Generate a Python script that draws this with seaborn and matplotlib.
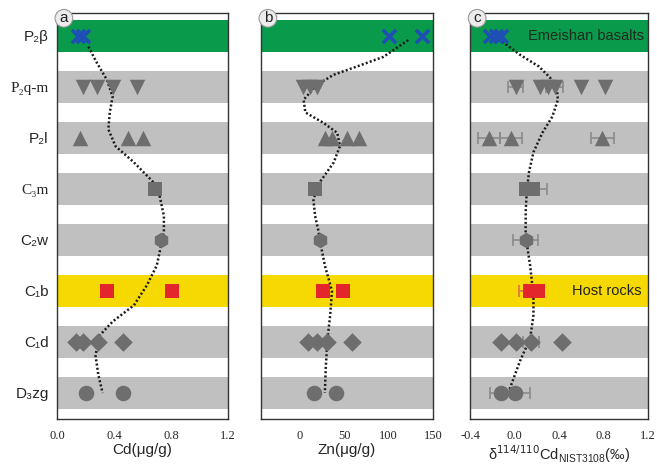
import matplotlib
matplotlib.use("Agg")
import matplotlib.pyplot as plt
import seaborn as sns

# stratigraphic units, top to bottom
levels = ["P₂β", "P₂q-m", "P₂l", "C₃m", "C₂w", "C₁b", "C₁d", "D₃zg"]

cd = [[0.15, 0.18], [0.18, 0.28, 0.39, 0.56], [0.16, 0.50, 0.60], [0.69], [0.73],
      [0.35, 0.81], [0.13, 0.18, 0.29, 0.46], [0.20, 0.46]]
zn = [[100, 137], [3.5, 11, 19], [28, 36, 53, 66], [17], [22],
      [26, 48], [9, 19, 30, 59], [16, 41]]
dcd = [[-0.22, -0.17, -0.12], [0.01, 0.23, 0.30, 0.36, 0.60, 0.81], [-0.23, -0.03, 0.79],
       [0.10, 0.17], [0.10], [0.14, 0.21], [-0.12, 0.01, 0.15, 0.43], [-0.12, 0.0]]
dcd_err = [[0, 0, 0], [0.07, 0, 0, 0.08, 0, 0], [0.1, 0.1, 0.1],
           [0, 0.12], [0.11], [0.1, 0], [0, 0, 0.07, 0], [0.1, 0.14]]

# dotted trend curves (value, level position)
cd_curve_x = [0.22, 0.28, 0.35, 0.39, 0.37, 0.36, 0.41, 0.54, 0.67, 0.72, 0.75, 0.75,
              0.74, 0.70, 0.63, 0.54, 0.39, 0.30, 0.27, 0.29, 0.32]
cd_curve_y = [0.21, 0.53, 0.86, 1.19, 1.5, 1.83, 2.16, 2.48, 2.85, 3.14, 3.53, 3.84,
              3.98, 4.5, 4.89, 5.28, 5.6, 5.87, 6.26, 6.65, 7.0]
zn_curve_x = [122, 94, 64, 38, 19, 4, 6, 26, 42, 45, 38, 23, 15, 17, 21,
              22, 28, 36, 34, 31, 29, 28]
zn_curve_y = [0.08, 0.41, 0.6, 0.76, 0.96, 1.25, 1.5, 1.7, 1.9, 2.16, 2.48, 2.85, 3.2, 3.53, 3.84,
              3.98, 4.5, 5.0, 5.48, 5.93, 6.51, 7.0]
dcd_curve_x = [-0.11, 0.05, 0.22, 0.32, 0.38, 0.39, 0.34, 0.25, 0.17, 0.13, 0.11, 0.10, 0.10,
               0.10, 0.14, 0.17, 0.17, 0.14, 0.05, -0.05]
dcd_curve_y = [0.11, 0.37, 0.6, 0.82, 1.05, 1.25, 1.58, 1.9, 2.28, 2.67, 3.06, 3.45, 3.84,
               3.92, 4.5, 5.09, 5.48, 5.93, 6.37, 6.96]

GRAY_BAND = "#c0c0c0"
band_colors = ["#0a9a4b", GRAY_BAND, GRAY_BAND, GRAY_BAND, GRAY_BAND, "#f6d900", GRAY_BAND, GRAY_BAND]
markers = ["x", "v", "^", "s", "h", "s", "D", "o"]
mk_colors = ["#1d4fb5", "#6e6e6e", "#6e6e6e", "#6e6e6e", "#6e6e6e", "#e3262b", "#6e6e6e", "#6e6e6e"]
mk_sizes = [90, 125, 125, 115, 125, 115, 90, 125]

sns.set_style("white")
plt.rcParams["font.family"] = ["Liberation Sans", "DejaVu Sans"]

fig = plt.figure(figsize=(6.57, 4.66), dpi=100)
bottom, height = 0.1009, 0.8712
ax_a = fig.add_axes([0.0868, bottom, 0.2603, height])
ax_b = fig.add_axes([0.3973, bottom, 0.2618, height])
ax_c = fig.add_axes([0.7154, bottom, 0.2710, height])


def fmt_tick(t):
    if isinstance(t, int):
        return str(t)
    return "%.1f" % t


def draw_panel(ax, values, cx, cy, xlim, ticks, xlabel, tag, errs=None, label_size=11):
    ax.set_xlim(xlim)
    ax.set_ylim(7.51, -0.45)
    for i in range(len(levels)):
        ax.axhspan(i - 0.31, i + 0.31, color=band_colors[i], lw=0, zorder=0)
    sns.lineplot(x=cx, y=cy, sort=False, estimator=None, ax=ax, color="#1a1a1a",
                 linewidth=1.8, linestyle=(0, (0.8, 0.9)), zorder=3)
    for i, vals in enumerate(values):
        ys = [i] * len(vals)
        if errs is not None:
            ex = [v for v, e in zip(vals, errs[i]) if e > 0]
            ee = [e for e in errs[i] if e > 0]
            if ex:
                ecol = "#e07050" if i == 5 else "#8a8a8a"
                ax.errorbar(ex, [i] * len(ex), xerr=ee, fmt="none", ecolor=ecol,
                            elinewidth=1.2, capsize=4, capthick=1.2, zorder=2)
        if markers[i] == "x":
            sns.scatterplot(x=vals, y=ys, marker="x", color=mk_colors[i], s=mk_sizes[i],
                            linewidth=2.6, ax=ax, zorder=4)
        else:
            sns.scatterplot(x=vals, y=ys, marker=markers[i], color=mk_colors[i], s=mk_sizes[i],
                            linewidth=0, ax=ax, zorder=4)
    ax.set_xticks(ticks)
    ax.set_xticklabels([fmt_tick(t) for t in ticks], fontfamily="Liberation Serif", fontsize=9)
    ax.tick_params(axis="x", direction="out", length=4, width=1, color="#333333", pad=4)
    ax.tick_params(axis="y", length=0)
    ax.set_xlabel(xlabel, fontsize=label_size, labelpad=1)
    ax.set_ylabel("")
    for sp in ax.spines.values():
        sp.set_color("#333333")
        sp.set_linewidth(1.0)
    ax.text(0.04, 0.987, tag, transform=ax.transAxes, ha="center", va="center", fontsize=11,
            color="#222222", zorder=6,
            bbox=dict(boxstyle="circle,pad=0.12", fc="#ececec", ec="#9a9a9a", lw=0.8))


draw_panel(ax_a, cd, cd_curve_x, cd_curve_y, (0, 1.2), [0.0, 0.4, 0.8, 1.2], "Cd(μg/g)", "a")
draw_panel(ax_b, zn, zn_curve_x, zn_curve_y, (-44, 150), [0, 50, 100, 150], "Zn(μg/g)", "b")
draw_panel(ax_c, dcd, dcd_curve_x, dcd_curve_y, (-0.4, 1.2), [-0.4, 0.0, 0.4, 0.8, 1.2],
           r"δ$^{114/110}$Cd$_{\mathregular{NIST3108}}$(‰)", "c", errs=dcd_err, label_size=10.5)

ax_a.set_yticks(range(len(levels)))
ax_a.set_yticklabels(levels, fontsize=11)
serif_units = ["P₂q-m", "C₃m"]
for lab in ax_a.get_yticklabels():
    if lab.get_text() in serif_units:
        lab.set_fontfamily(["Liberation Serif", "DejaVu Serif"])
ax_a.tick_params(axis="y", pad=6)
for ax in (ax_b, ax_c):
    ax.set_yticks(range(len(levels)))
    ax.set_yticklabels([])

ax_c.text(0.975, 0, "Emeishan basalts", transform=ax_c.get_yaxis_transform(), ha="right",
          va="center", fontsize=10.5, color="#1e2a1e", zorder=5)
ax_c.text(0.965, 5, "Host rocks", transform=ax_c.get_yaxis_transform(), ha="right",
          va="center", fontsize=10.5, color="#222222", zorder=5)

fig.savefig("out.png", dpi=100)
